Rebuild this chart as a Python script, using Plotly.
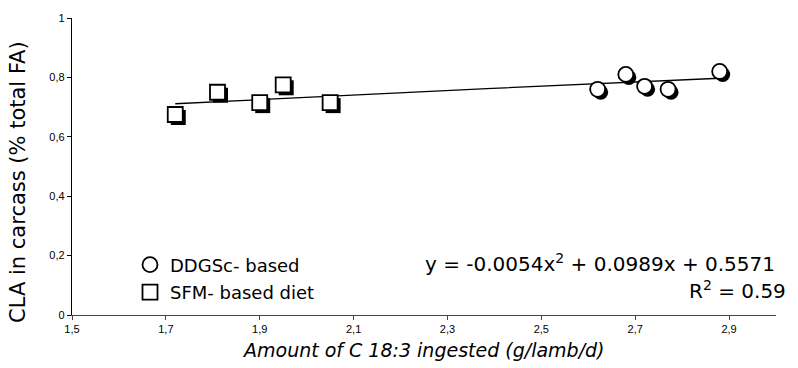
import numpy as np
import plotly.graph_objects as go

# Data
sfm_x = [1.72, 1.81, 1.90, 1.95, 2.05]
sfm_y = [0.675, 0.75, 0.715, 0.775, 0.715]
ddgs_x = [2.62, 2.68, 2.72, 2.77, 2.88]
ddgs_y = [0.76, 0.81, 0.77, 0.76, 0.82]
coef = [-0.0054, 0.0989, 0.5571]  # quadratic fit
x_ticks = [1.5, 1.7, 1.9, 2.1, 2.3, 2.5, 2.7, 2.9]
x_tick_labels = ["1,5", "1,7", "1,9", "2,1", "2,3", "2,5", "2,7", "2,9"]
y_ticks = [0, 0.2, 0.4, 0.6, 0.8, 1]
y_tick_labels = ["0", "0,2", "0,4", "0,6", "0,8", "1"]

W, H = 798, 368
ml, mr, mt, mb = 72, 22, 16, 53
pw, ph = W - ml - mr, H - mt - mb
xr = [1.5, 3.0]
yr = [0, 1]
sdx, sdy = 3 * (xr[1] - xr[0]) / pw, 3 * (yr[1] - yr[0]) / ph  # 3 px drop shadow

def px2paper_x(p):
    return (p - ml) / pw

def px2paper_y(p):
    return (H - mb - p) / ph

all_x = sfm_x + ddgs_x
fx = np.linspace(min(all_x), max(all_x), 80)
fy = coef[0] * fx**2 + coef[1] * fx + coef[2]

BIG = "DejaVu Sans, Verdana, sans-serif"

fig = go.Figure()
fig.add_trace(go.Scatter(x=fx, y=fy, mode="lines", line=dict(color="black", width=1.3),
                         showlegend=False, hoverinfo="skip"))
fig.add_trace(go.Scatter(x=[v + sdx for v in ddgs_x], y=[v - sdy for v in ddgs_y], mode="markers",
                         marker=dict(symbol="circle", size=15, color="black", line=dict(width=0)),
                         showlegend=False, hoverinfo="skip"))
fig.add_trace(go.Scatter(x=[v + sdx for v in sfm_x], y=[v - sdy for v in sfm_y], mode="markers",
                         marker=dict(symbol="square", size=15, color="black", line=dict(width=0)),
                         showlegend=False, hoverinfo="skip"))
fig.add_trace(go.Scatter(x=ddgs_x, y=ddgs_y, mode="markers", name="DDGSc- based", legendgroup="a",
                         marker=dict(symbol="circle", size=15, color="white", line=dict(color="black", width=1.8))))
fig.add_trace(go.Scatter(x=sfm_x, y=sfm_y, mode="markers", name="SFM- based diet", legendgroup="b",
                         marker=dict(symbol="square", size=15, color="white", line=dict(color="black", width=1.8))))

fig.add_annotation(xref="paper", yref="paper", x=px2paper_x(777), y=px2paper_y(263),
                   text="y = -0.0054x<sup>2</sup> + 0.0989x + 0.5571", showarrow=False,
                   xanchor="right", yanchor="middle", font=dict(size=20, family=BIG, color="black"))
fig.add_annotation(xref="paper", yref="paper", x=px2paper_x(788), y=px2paper_y(290),
                   text="R<sup>2</sup> = 0.59", showarrow=False,
                   xanchor="right", yanchor="middle", font=dict(size=20, family=BIG, color="black"))
# axis titles
fig.add_annotation(xref="paper", yref="paper", x=px2paper_x(18), y=px2paper_y(181),
                   text="CLA in carcass (% total FA)", showarrow=False, textangle=-90,
                   xanchor="center", yanchor="middle", font=dict(size=21, family=BIG, color="black"))
fig.add_annotation(xref="paper", yref="paper", x=px2paper_x(423), y=px2paper_y(350),
                   text="<i>Amount of C 18:3 ingested (g/lamb/d)</i>", showarrow=False,
                   xanchor="center", yanchor="middle", font=dict(size=19, family=BIG, color="black"))

fig.update_layout(
    width=W, height=H, margin=dict(l=ml, r=mr, t=mt, b=mb),
    paper_bgcolor="white", plot_bgcolor="white",
    font=dict(family="Liberation Sans, Arial, sans-serif", color="black"),
    legend=dict(x=px2paper_x(130), y=px2paper_y(246), xanchor="left", yanchor="top",
                bgcolor="rgba(0,0,0,0)", font=dict(size=18, family=BIG), tracegroupgap=1,
                traceorder="grouped"),
    xaxis=dict(range=xr, tickvals=x_ticks, ticktext=x_tick_labels, showgrid=False, zeroline=False,
               showline=True, linecolor="#444", linewidth=1.3, ticks="outside", ticklen=4, tickcolor="#444",
               tickfont=dict(size=11)),
    yaxis=dict(range=yr, tickvals=y_ticks, ticktext=y_tick_labels, showgrid=False, zeroline=False,
               showline=True, linecolor="black", linewidth=1.3, ticks="outside", ticklen=4, tickcolor="black",
               tickfont=dict(size=11)),
)

fig.write_html("out.html", config={"displayModeBar": False},
               post_script="document.body.style.margin='0';document.body.style.padding='0';")
